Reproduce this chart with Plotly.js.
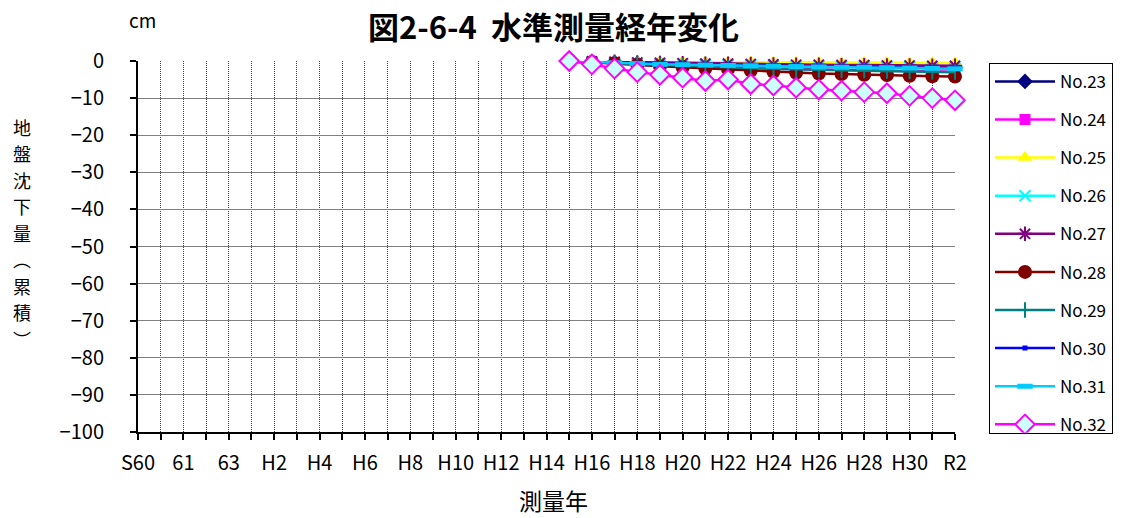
<!DOCTYPE html>
<html>
<head>
<meta charset="utf-8">
<script src="https://cdn.plot.ly/plotly-3.0.1.min.js"></script>
<style>html,body{margin:0;padding:0;background:#fff;}#chart{width:1126px;height:518px;}</style>
</head>
<body>
<div id="chart"></div>
<script>
// Category axis (years)
const axisCategories = ['S60','S60_2','61','62','63','H1','H2','H3','H4','H5','H6','H7','H8','H9','H10','H11','H12','H13','H14','H15','H16','H17','H18','H19','H20','H21','H22','H23','H24','H25','H26','H27','H28','H29','H30','H31','R2'];
const axisLabels = ['S60','','61','','63','','H2','','H4','','H6','','H8','','H10','','H12','','H14','','H16','','H18','','H20','','H22','','H24','','H26','','H28','','H30','','R2'];

// Survey years with data
const surveyYears = ['H15','H16','H17','H18','H19','H20','H21','H22','H23','H24','H25','H26','H27','H28','H29','H30','H31','R2'];

// Cumulative subsidence (cm)
const no23 = [0,-0.2,-0.4,-0.6,-0.7,-0.8,-0.9,-0.9,-1.0,-1.1,-1.2,-1.2,-1.3,-1.4,-1.4,-1.5,-1.6,-1.7];
const no24 = [0,-0.4,-0.7,-1.0,-1.2,-1.4,-1.6,-1.7,-1.9,-2.0,-2.2,-2.3,-2.4,-2.5,-2.6,-2.7,-2.8,-2.9];
const no25 = [0,-0.1,-0.1,-0.2,-0.2,-0.2,-0.3,-0.3,-0.3,-0.3,-0.4,-0.4,-0.4,-0.4,-0.4,-0.5,-0.5,-0.5];
const no26 = [0,-0.3,-0.5,-0.7,-0.8,-0.9,-1.0,-1.1,-1.2,-1.3,-1.4,-1.4,-1.5,-1.6,-1.6,-1.7,-1.8,-1.9];
const no27 = [0,-0.1,-0.2,-0.4,-0.5,-0.6,-0.7,-0.7,-0.8,-0.9,-1.0,-1.0,-1.1,-1.1,-1.2,-1.2,-1.3,-1.3];
const no28 = [0,-0.3,-0.6,-1.0,-1.4,-1.7,-2.0,-2.2,-2.6,-2.9,-3.2,-3.4,-3.5,-3.7,-3.8,-4.0,-4.1,-4.2];
const no29 = [0,-0.3,-0.5,-0.8,-1.1,-1.3,-1.5,-1.6,-1.9,-2.1,-2.3,-2.4,-2.5,-2.6,-2.7,-2.8,-2.9,-3.0];
const no30 = [0,-0.2,-0.4,-0.6,-0.8,-0.9,-1.0,-1.1,-1.2,-1.3,-1.4,-1.5,-1.6,-1.6,-1.7,-1.8,-1.9,-2.0];
const no31 = [0,-0.3,-0.5,-0.7,-0.9,-1.0,-1.1,-1.2,-1.3,-1.4,-1.5,-1.6,-1.7,-1.7,-1.8,-1.9,-2.0,-2.1];
const no32 = [0,-0.9,-2.05,-3.0,-3.7,-4.5,-5.4,-5.0,-6.2,-6.6,-7.2,-7.7,-8.0,-8.4,-8.7,-9.4,-10.0,-10.6];

// Y axis title characters (stacked vertically)
const yTitleChars = ['地','盤','沈','下','量','︵','累','積','︶'];

const FONT = '"Noto Sans CJK JP", "Noto Sans", sans-serif';

function series(name, y, color, marker) {
  return {
    type: 'scatter', mode: 'lines+markers', name: name,
    x: surveyYears, y: y, legendgroup: name,
    line: {color: color, width: 2.5},
    marker: Object.assign({color: color, size: 9}, marker),
    cliponaxis: false
  };
}

const traces = [
  series('No.23', no23, '#000080', {symbol: 'diamond', size: 12}),
  series('No.24', no24, '#FF00FF', {symbol: 'square', size: 11}),
  series('No.25', no25, '#FFFF00', {symbol: 'triangle-up', size: 13}),
  series('No.26', no26, '#00FFFF', {symbol: 'x-thin', size: 11, line: {color: '#00FFFF', width: 2}}),
  series('No.27', no27, '#800080', {symbol: 'asterisk', size: 12, line: {color: '#800080', width: 2}}),
  series('No.28', no28, '#800000', {symbol: 'circle', size: 14}),
  series('No.29', no29, '#008080', {symbol: 'line-ns', size: 11, line: {color: '#008080', width: 2}}),
  series('No.30', no30, '#0000FF', {symbol: 'square', size: 5}),
  series('No.31', no31, '#00CCFF', {symbol: 'line-ew', size: 11, line: {color: '#00CCFF', width: 5}}),
  series('No.32', no32, '#FF00FF', {symbol: 'diamond', size: 15, color: '#CCFFFF', line: {color: '#FF00FF', width: 2}})
];

const annotations = [
  {text: '図2-6-4  水準測量経年変化', xref: 'paper', yref: 'paper', x: 0.508, y: 1, yshift: 36, xanchor: 'center', yanchor: 'middle', showarrow: false,
   font: {family: FONT, size: 31, color: '#000000', weight: 'bold'}},
  {text: 'cm', xref: 'paper', yref: 'paper', x: 0, y: 1, xshift: 4, yshift: 42, xanchor: 'center', yanchor: 'middle', showarrow: false,
   font: {family: FONT, size: 19, color: '#000000'}},
  {text: '測量年', xref: 'paper', yref: 'paper', x: 0.508, y: 0, yshift: -68, xanchor: 'center', yanchor: 'middle', showarrow: false,
   font: {family: FONT, size: 23, color: '#000000'}}
];
// stacked y-title: one character per line, spaced evenly around the plot's middle
const yTitleStep = 26.5;
yTitleChars.forEach(function (ch, i) {
  annotations.push({
    text: ch, xref: 'paper', yref: 'paper', x: 0, xshift: -116,
    y: 0.5, yshift: 14 - (i - (yTitleChars.length - 1) / 2) * yTitleStep,
    xanchor: 'center', yanchor: 'middle', showarrow: false,
    font: {family: FONT, size: 18, color: '#000000'}
  });
});

const layout = {
  width: 1126, height: 518,
  margin: {l: 138, r: 171, t: 61, b: 86},
  paper_bgcolor: '#ffffff', plot_bgcolor: '#ffffff',
  font: {family: FONT, color: '#000000', size: 17},
  showlegend: true,
  legend: {
    x: (989 - 138) / 817, xanchor: 'left', y: 0.995, yanchor: 'top',
    bordercolor: '#000000', borderwidth: 1, bgcolor: '#ffffff',
    font: {family: FONT, size: 17, color: '#000000'},
    tracegroupgap: 13, itemwidth: 60
  },
  xaxis: {
    type: 'category',
    categoryorder: 'array', categoryarray: axisCategories,
    range: [0, axisCategories.length - 1],
    tickmode: 'array', tickvals: axisCategories, ticktext: axisLabels,
    ticks: 'outside', ticklen: 6, tickwidth: 2, tickcolor: '#000000',
    ticklabelstandoff: 6,
    showline: true, linecolor: '#000000', linewidth: 2,
    showgrid: true, gridcolor: '#404040', gridwidth: 1, griddash: '1px,1px',
    tickfont: {family: FONT, size: 20, color: '#000000'},
    tickangle: 0, zeroline: false, fixedrange: true
  },
  yaxis: {
    range: [-100, 0], dtick: 10, tick0: 0,
    ticks: 'outside', ticklen: 6, tickwidth: 2, tickcolor: '#000000',
    ticklabelstandoff: 22,
    showline: true, linecolor: '#000000', linewidth: 2,
    showgrid: true, gridcolor: '#808080', gridwidth: 1,
    zeroline: false,
    tickfont: {family: FONT, size: 20, color: '#000000'},
    fixedrange: true
  },
  annotations: annotations
};

Plotly.newPlot('chart', traces, layout, {displayModeBar: false, staticPlot: true});
</script>
</body>
</html>
